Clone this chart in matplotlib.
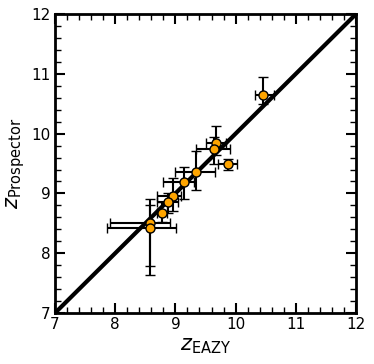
import matplotlib
matplotlib.use("Agg")
import matplotlib.pyplot as plt
import numpy as np
from matplotlib.ticker import MultipleLocator

z_eazy = [10.45, 9.67, 9.64, 9.87, 9.34, 9.15, 8.96, 8.88, 8.77, 8.57, 8.58]
z_eazy_lo = [0.12, 0.16, 0.30, 0.16, 0.35, 0.35, 0.27, 0.19, 0.08, 0.66, 0.71]
z_eazy_hi = [0.19, 0.17, 0.26, 0.16, 0.32, 0.16, 0.14, 0.17, 0.09, 0.34, 0.43]
z_prosp = [10.65, 9.85, 9.74, 9.49, 9.35, 9.19, 8.95, 8.86, 8.68, 8.50, 8.42]
z_prosp_lo = [0.16, 0.20, 0.24, 0.09, 0.29, 0.28, 0.25, 0.18, 0.16, 0.72, 0.78]
z_prosp_hi = [0.30, 0.27, 0.20, 0.09, 0.36, 0.25, 0.30, 0.15, 0.17, 0.40, 0.39]

fig = plt.figure(figsize=(3.74, 3.64), dpi=100)
ax = fig.add_axes([0.147, 0.14, 0.805, 0.8215])

ax.plot([7, 12], [7, 12], color="black", lw=3, zorder=1)
ax.errorbar(z_eazy, z_prosp,
            xerr=[z_eazy_lo, z_eazy_hi], yerr=[z_prosp_lo, z_prosp_hi],
            fmt="o", color="black", mfc="orange", mec="black", mew=1.0,
            ms=6.5, elinewidth=1.5, capsize=3.5, capthick=1.5, zorder=3)

ax.set_xlim(7, 12)
ax.set_ylim(7, 12)
ax.xaxis.set_major_locator(MultipleLocator(1))
ax.yaxis.set_major_locator(MultipleLocator(1))
ax.xaxis.set_minor_locator(MultipleLocator(0.2))
ax.yaxis.set_minor_locator(MultipleLocator(0.2))
ax.tick_params(which="both", direction="in", top=True, right=True)
ax.tick_params(which="major", length=7, width=1.5, labelsize=11, pad=3)
ax.tick_params(which="minor", length=4, width=1.0)
for s in ax.spines.values():
    s.set_linewidth(2)

ax.set_xlabel(r"$z_{\rm EAZY}$", fontsize=15, labelpad=3)
ax.set_ylabel(r"$z_{\rm Prospector}$", fontsize=15, labelpad=3)

fig.savefig("out.png", dpi=100)
